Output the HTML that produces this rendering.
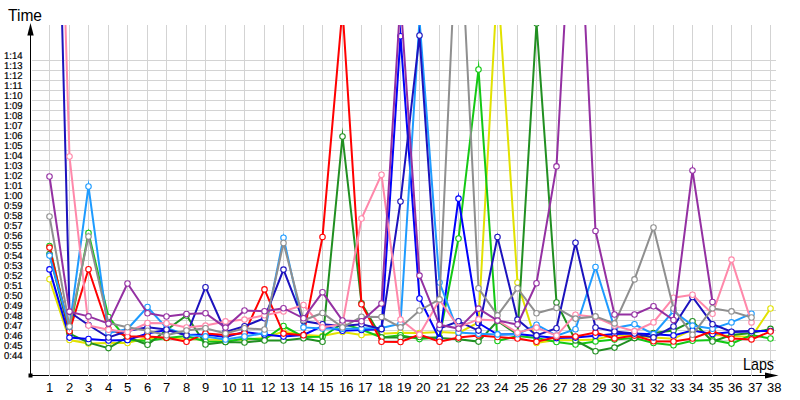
<!DOCTYPE html><html><head><meta charset="utf-8"><style>html,body{margin:0;padding:0;background:#fff;width:800px;height:400px;overflow:hidden}svg{display:block}text{font-family:"Liberation Sans",sans-serif;fill:#000}</style></head><body>
<svg width="800" height="400" viewBox="0 0 800 400">
<rect width="800" height="400" fill="#fff"/>
<path d="M32 60.5H776M32 70.5H776M32 80.5H776M32 90.5H776M32 100.5H776M32 110.5H776M32 120.5H776M32 130.5H776M32 140.5H776M32 150.5H776M32 160.5H776M32 170.5H776M32 180.5H776M32 190.5H776M32 200.5H776M32 210.5H776M32 220.5H776M32 230.5H776M32 240.5H776M32 250.5H776M32 260.5H776M32 270.5H776M32 280.5H776M32 290.5H776M32 300.5H776M32 310.5H776M32 320.5H776M32 330.5H776M32 340.5H776M32 350.5H776M32 360.5H776" stroke="#d3d3d3" stroke-width="1" fill="none" shape-rendering="crispEdges"/>
<path d="M30.5 34V376M30 375.5H767" stroke="#000" stroke-width="1" fill="none" shape-rendering="crispEdges"/>
<path d="M49.5 25V376M69.5 25V376M88.5 25V376M108.5 25V376M127.5 25V376M147.5 25V376M166.5 25V376M186.5 25V376M205.5 25V376M225.5 25V376M244.5 25V376M264.5 25V376M283.5 25V376M303.5 25V376M322.5 25V376M342.5 25V376M361.5 25V376M381.5 25V376M400.5 25V376M419.5 25V376M439.5 25V376M458.5 25V376M478.5 25V376M497.5 25V376M517.5 25V376M536.5 25V376M556.5 25V376M575.5 25V376M595.5 25V376M614.5 25V376M634.5 25V376M653.5 25V376M673.5 25V376M692.5 25V376M712.5 25V376M731.5 25V376M751.5 25V376M770.5 25V376" stroke="#d3d3d3" stroke-width="1" fill="none" shape-rendering="crispEdges"/>
<path d="M30.5 23L27.3 35.5L33.7 35.5Z" fill="#000"/>
<path d="M778.5 375.5L765 372.5L765 378.5Z" fill="#000"/>
<rect x="28.5" y="373.5" width="4" height="4" fill="#000"/>
<text x="4" y="59" font-size="10" textLength="18.5" lengthAdjust="spacingAndGlyphs" stroke="#000" stroke-width="0.2" text-rendering="geometricPrecision">1:14</text><text x="4" y="69" font-size="10" textLength="18.5" lengthAdjust="spacingAndGlyphs" stroke="#000" stroke-width="0.2" text-rendering="geometricPrecision">1:13</text><text x="4" y="79" font-size="10" textLength="18.5" lengthAdjust="spacingAndGlyphs" stroke="#000" stroke-width="0.2" text-rendering="geometricPrecision">1:12</text><text x="4" y="89" font-size="10" textLength="18.5" lengthAdjust="spacingAndGlyphs" stroke="#000" stroke-width="0.2" text-rendering="geometricPrecision">1:11</text><text x="4" y="99" font-size="10" textLength="18.5" lengthAdjust="spacingAndGlyphs" stroke="#000" stroke-width="0.2" text-rendering="geometricPrecision">1:10</text><text x="4" y="109" font-size="10" textLength="18.5" lengthAdjust="spacingAndGlyphs" stroke="#000" stroke-width="0.2" text-rendering="geometricPrecision">1:09</text><text x="4" y="119" font-size="10" textLength="18.5" lengthAdjust="spacingAndGlyphs" stroke="#000" stroke-width="0.2" text-rendering="geometricPrecision">1:08</text><text x="4" y="129" font-size="10" textLength="18.5" lengthAdjust="spacingAndGlyphs" stroke="#000" stroke-width="0.2" text-rendering="geometricPrecision">1:07</text><text x="4" y="139" font-size="10" textLength="18.5" lengthAdjust="spacingAndGlyphs" stroke="#000" stroke-width="0.2" text-rendering="geometricPrecision">1:06</text><text x="4" y="149" font-size="10" textLength="18.5" lengthAdjust="spacingAndGlyphs" stroke="#000" stroke-width="0.2" text-rendering="geometricPrecision">1:05</text><text x="4" y="159" font-size="10" textLength="18.5" lengthAdjust="spacingAndGlyphs" stroke="#000" stroke-width="0.2" text-rendering="geometricPrecision">1:04</text><text x="4" y="169" font-size="10" textLength="18.5" lengthAdjust="spacingAndGlyphs" stroke="#000" stroke-width="0.2" text-rendering="geometricPrecision">1:03</text><text x="4" y="179" font-size="10" textLength="18.5" lengthAdjust="spacingAndGlyphs" stroke="#000" stroke-width="0.2" text-rendering="geometricPrecision">1:02</text><text x="4" y="189" font-size="10" textLength="18.5" lengthAdjust="spacingAndGlyphs" stroke="#000" stroke-width="0.2" text-rendering="geometricPrecision">1:01</text><text x="4" y="199" font-size="10" textLength="18.5" lengthAdjust="spacingAndGlyphs" stroke="#000" stroke-width="0.2" text-rendering="geometricPrecision">1:00</text><text x="4" y="209" font-size="10" textLength="18.5" lengthAdjust="spacingAndGlyphs" stroke="#000" stroke-width="0.2" text-rendering="geometricPrecision">0:59</text><text x="4" y="219" font-size="10" textLength="18.5" lengthAdjust="spacingAndGlyphs" stroke="#000" stroke-width="0.2" text-rendering="geometricPrecision">0:58</text><text x="4" y="229" font-size="10" textLength="18.5" lengthAdjust="spacingAndGlyphs" stroke="#000" stroke-width="0.2" text-rendering="geometricPrecision">0:57</text><text x="4" y="239" font-size="10" textLength="18.5" lengthAdjust="spacingAndGlyphs" stroke="#000" stroke-width="0.2" text-rendering="geometricPrecision">0:56</text><text x="4" y="249" font-size="10" textLength="18.5" lengthAdjust="spacingAndGlyphs" stroke="#000" stroke-width="0.2" text-rendering="geometricPrecision">0:55</text><text x="4" y="259" font-size="10" textLength="18.5" lengthAdjust="spacingAndGlyphs" stroke="#000" stroke-width="0.2" text-rendering="geometricPrecision">0:54</text><text x="4" y="269" font-size="10" textLength="18.5" lengthAdjust="spacingAndGlyphs" stroke="#000" stroke-width="0.2" text-rendering="geometricPrecision">0:53</text><text x="4" y="279" font-size="10" textLength="18.5" lengthAdjust="spacingAndGlyphs" stroke="#000" stroke-width="0.2" text-rendering="geometricPrecision">0:52</text><text x="4" y="289" font-size="10" textLength="18.5" lengthAdjust="spacingAndGlyphs" stroke="#000" stroke-width="0.2" text-rendering="geometricPrecision">0:51</text><text x="4" y="299" font-size="10" textLength="18.5" lengthAdjust="spacingAndGlyphs" stroke="#000" stroke-width="0.2" text-rendering="geometricPrecision">0:50</text><text x="4" y="309" font-size="10" textLength="18.5" lengthAdjust="spacingAndGlyphs" stroke="#000" stroke-width="0.2" text-rendering="geometricPrecision">0:49</text><text x="4" y="319" font-size="10" textLength="18.5" lengthAdjust="spacingAndGlyphs" stroke="#000" stroke-width="0.2" text-rendering="geometricPrecision">0:48</text><text x="4" y="329" font-size="10" textLength="18.5" lengthAdjust="spacingAndGlyphs" stroke="#000" stroke-width="0.2" text-rendering="geometricPrecision">0:47</text><text x="4" y="339" font-size="10" textLength="18.5" lengthAdjust="spacingAndGlyphs" stroke="#000" stroke-width="0.2" text-rendering="geometricPrecision">0:46</text><text x="4" y="349" font-size="10" textLength="18.5" lengthAdjust="spacingAndGlyphs" stroke="#000" stroke-width="0.2" text-rendering="geometricPrecision">0:45</text><text x="4" y="359" font-size="10" textLength="18.5" lengthAdjust="spacingAndGlyphs" stroke="#000" stroke-width="0.2" text-rendering="geometricPrecision">0:44</text>
<text x="46.0" y="392" font-size="13">1</text><text x="66.0" y="392" font-size="13">2</text><text x="85.0" y="392" font-size="13">3</text><text x="105.0" y="392" font-size="13">4</text><text x="124.0" y="392" font-size="13">5</text><text x="144.0" y="392" font-size="13">6</text><text x="163.0" y="392" font-size="13">7</text><text x="183.0" y="392" font-size="13">8</text><text x="202.0" y="392" font-size="13">9</text><text x="222.0" y="392" font-size="13">10</text><text x="241.0" y="392" font-size="13">11</text><text x="261.0" y="392" font-size="13">12</text><text x="280.0" y="392" font-size="13">13</text><text x="300.0" y="392" font-size="13">14</text><text x="319.0" y="392" font-size="13">15</text><text x="339.0" y="392" font-size="13">16</text><text x="358.0" y="392" font-size="13">17</text><text x="378.0" y="392" font-size="13">18</text><text x="397.0" y="392" font-size="13">19</text><text x="416.0" y="392" font-size="13">20</text><text x="436.0" y="392" font-size="13">21</text><text x="455.0" y="392" font-size="13">22</text><text x="475.0" y="392" font-size="13">23</text><text x="494.0" y="392" font-size="13">24</text><text x="514.0" y="392" font-size="13">25</text><text x="533.0" y="392" font-size="13">26</text><text x="553.0" y="392" font-size="13">27</text><text x="572.0" y="392" font-size="13">28</text><text x="592.0" y="392" font-size="13">29</text><text x="611.0" y="392" font-size="13">30</text><text x="631.0" y="392" font-size="13">31</text><text x="650.0" y="392" font-size="13">32</text><text x="670.0" y="392" font-size="13">33</text><text x="689.0" y="392" font-size="13">34</text><text x="709.0" y="392" font-size="13">35</text><text x="728.0" y="392" font-size="13">36</text><text x="748.0" y="392" font-size="13">37</text><text x="767.0" y="392" font-size="13">38</text>
<text x="8" y="21" font-size="17" textLength="34" lengthAdjust="spacingAndGlyphs">Time</text>
<text x="743" y="370" font-size="17" textLength="31" lengthAdjust="spacingAndGlyphs">Laps</text>
<defs><clipPath id="c"><rect x="0" y="25" width="800" height="351"/></clipPath></defs>
<g clip-path="url(#c)" fill="none" stroke-width="2" stroke-linejoin="miter" stroke-miterlimit="21">
<path d="M49.5 279.3 L69.5 340.0 L88.5 343.5 L108.5 343.0 L127.5 343.0 L147.5 337.7 L166.5 338.0 L186.5 339.0 L205.5 339.5 L225.5 340.0 L244.5 339.5 L264.5 338.0 L283.5 331.5 L303.5 335.0 L322.5 336.0 L342.5 332.0 L361.5 335.0 L381.5 333.8 L400.5 332.7 L419.5 333.0 L439.5 332.0 L458.5 333.0 L478.5 322.5 L497.5 -20.0 L517.5 282.5 L536.5 343.0 L556.5 340.0 L575.5 340.2 L595.5 339.4 L614.5 335.0 L634.5 336.0 L653.5 337.6 L673.5 338.8 L692.5 329.5 L712.5 335.0 L731.5 336.0 L751.5 337.0 L770.5 308.5" stroke="#e2e200"/>
<g fill="#fff" stroke="#e2e200" stroke-width="1.1"><circle cx="49.5" cy="279.3" r="2.75"/><circle cx="69.5" cy="340.0" r="2.75"/><circle cx="88.5" cy="343.5" r="2.75"/><circle cx="108.5" cy="343.0" r="2.75"/><circle cx="127.5" cy="343.0" r="2.75"/><circle cx="147.5" cy="337.7" r="2.75"/><circle cx="166.5" cy="338.0" r="2.75"/><circle cx="186.5" cy="339.0" r="2.75"/><circle cx="205.5" cy="339.5" r="2.75"/><circle cx="225.5" cy="340.0" r="2.75"/><circle cx="244.5" cy="339.5" r="2.75"/><circle cx="264.5" cy="338.0" r="2.75"/><circle cx="283.5" cy="331.5" r="2.75"/><circle cx="303.5" cy="335.0" r="2.75"/><circle cx="322.5" cy="336.0" r="2.75"/><circle cx="342.5" cy="332.0" r="2.75"/><circle cx="361.5" cy="335.0" r="2.75"/><circle cx="381.5" cy="333.8" r="2.75"/><circle cx="400.5" cy="332.7" r="2.75"/><circle cx="419.5" cy="333.0" r="2.75"/><circle cx="439.5" cy="332.0" r="2.75"/><circle cx="458.5" cy="333.0" r="2.75"/><circle cx="478.5" cy="322.5" r="2.75"/><circle cx="517.5" cy="282.5" r="2.75"/><circle cx="536.5" cy="343.0" r="2.75"/><circle cx="556.5" cy="340.0" r="2.75"/><circle cx="575.5" cy="340.2" r="2.75"/><circle cx="595.5" cy="339.4" r="2.75"/><circle cx="614.5" cy="335.0" r="2.75"/><circle cx="634.5" cy="336.0" r="2.75"/><circle cx="653.5" cy="337.6" r="2.75"/><circle cx="673.5" cy="338.8" r="2.75"/><circle cx="692.5" cy="329.5" r="2.75"/><circle cx="712.5" cy="335.0" r="2.75"/><circle cx="731.5" cy="336.0" r="2.75"/><circle cx="751.5" cy="337.0" r="2.75"/><circle cx="770.5" cy="308.5" r="2.75"/></g>
<path d="M49.5 246.0 L69.5 332.0 L88.5 233.0 L108.5 317.0 L127.5 340.0 L147.5 341.0 L166.5 338.0 L186.5 336.0 L205.5 341.5 L225.5 342.0 L244.5 338.5 L264.5 339.5 L283.5 326.0 L303.5 337.0 L322.5 336.8 L342.5 323.5 L361.5 329.5 L381.5 337.5 L400.5 335.2 L419.5 339.1 L439.5 337.3 L458.5 238.5 L478.5 69.5 L497.5 341.0 L517.5 336.0 L536.5 338.0 L556.5 342.0 L575.5 344.5 L595.5 341.4 L614.5 339.6 L634.5 338.0 L653.5 343.0 L673.5 345.2 L692.5 340.8 L712.5 340.0 L731.5 343.6 L751.5 335.0 L770.5 338.5" stroke="#14c814"/>
<g fill="#fff" stroke="#14c814" stroke-width="1.1"><circle cx="49.5" cy="246.0" r="2.75"/><circle cx="69.5" cy="332.0" r="2.75"/><circle cx="88.5" cy="233.0" r="2.75"/><circle cx="108.5" cy="317.0" r="2.75"/><circle cx="127.5" cy="340.0" r="2.75"/><circle cx="147.5" cy="341.0" r="2.75"/><circle cx="166.5" cy="338.0" r="2.75"/><circle cx="186.5" cy="336.0" r="2.75"/><circle cx="205.5" cy="341.5" r="2.75"/><circle cx="225.5" cy="342.0" r="2.75"/><circle cx="244.5" cy="338.5" r="2.75"/><circle cx="264.5" cy="339.5" r="2.75"/><circle cx="283.5" cy="326.0" r="2.75"/><circle cx="303.5" cy="337.0" r="2.75"/><circle cx="322.5" cy="336.8" r="2.75"/><circle cx="342.5" cy="323.5" r="2.75"/><circle cx="361.5" cy="329.5" r="2.75"/><circle cx="381.5" cy="337.5" r="2.75"/><circle cx="400.5" cy="335.2" r="2.75"/><circle cx="419.5" cy="339.1" r="2.75"/><circle cx="439.5" cy="337.3" r="2.75"/><circle cx="458.5" cy="238.5" r="2.75"/><circle cx="478.5" cy="69.5" r="2.75"/><circle cx="497.5" cy="341.0" r="2.75"/><circle cx="517.5" cy="336.0" r="2.75"/><circle cx="536.5" cy="338.0" r="2.75"/><circle cx="556.5" cy="342.0" r="2.75"/><circle cx="575.5" cy="344.5" r="2.75"/><circle cx="595.5" cy="341.4" r="2.75"/><circle cx="614.5" cy="339.6" r="2.75"/><circle cx="634.5" cy="338.0" r="2.75"/><circle cx="653.5" cy="343.0" r="2.75"/><circle cx="673.5" cy="345.2" r="2.75"/><circle cx="692.5" cy="340.8" r="2.75"/><circle cx="712.5" cy="340.0" r="2.75"/><circle cx="731.5" cy="343.6" r="2.75"/><circle cx="751.5" cy="335.0" r="2.75"/><circle cx="770.5" cy="338.5" r="2.75"/></g>
<path d="M49.5 254.0 L69.5 333.6 L88.5 342.6 L108.5 348.1 L127.5 337.0 L147.5 344.8 L166.5 330.0 L186.5 315.5 L205.5 344.5 L225.5 342.0 L244.5 342.5 L264.5 340.5 L283.5 340.5 L303.5 338.2 L322.5 341.7 L342.5 136.5 L361.5 303.3 L381.5 337.5 L400.5 337.5 L419.5 337.0 L439.5 338.0 L458.5 339.3 L478.5 341.6 L497.5 321.0 L517.5 334.5 L536.5 23.3 L556.5 302.5 L575.5 340.4 L595.5 351.2 L614.5 347.6 L634.5 338.1 L653.5 333.0 L673.5 330.5 L692.5 321.2 L712.5 341.5 L731.5 335.0 L751.5 333.0 L770.5 328.9" stroke="#218f21"/>
<g fill="#fff" stroke="#218f21" stroke-width="1.1"><circle cx="49.5" cy="254.0" r="2.75"/><circle cx="69.5" cy="333.6" r="2.75"/><circle cx="88.5" cy="342.6" r="2.75"/><circle cx="108.5" cy="348.1" r="2.75"/><circle cx="127.5" cy="337.0" r="2.75"/><circle cx="147.5" cy="344.8" r="2.75"/><circle cx="166.5" cy="330.0" r="2.75"/><circle cx="186.5" cy="315.5" r="2.75"/><circle cx="205.5" cy="344.5" r="2.75"/><circle cx="225.5" cy="342.0" r="2.75"/><circle cx="244.5" cy="342.5" r="2.75"/><circle cx="264.5" cy="340.5" r="2.75"/><circle cx="283.5" cy="340.5" r="2.75"/><circle cx="303.5" cy="338.2" r="2.75"/><circle cx="322.5" cy="341.7" r="2.75"/><circle cx="342.5" cy="136.5" r="2.75"/><circle cx="361.5" cy="303.3" r="2.75"/><circle cx="381.5" cy="337.5" r="2.75"/><circle cx="400.5" cy="337.5" r="2.75"/><circle cx="419.5" cy="337.0" r="2.75"/><circle cx="439.5" cy="338.0" r="2.75"/><circle cx="458.5" cy="339.3" r="2.75"/><circle cx="478.5" cy="341.6" r="2.75"/><circle cx="497.5" cy="321.0" r="2.75"/><circle cx="517.5" cy="334.5" r="2.75"/><circle cx="536.5" cy="23.3" r="2.75"/><circle cx="556.5" cy="302.5" r="2.75"/><circle cx="575.5" cy="340.4" r="2.75"/><circle cx="595.5" cy="351.2" r="2.75"/><circle cx="614.5" cy="347.6" r="2.75"/><circle cx="634.5" cy="338.1" r="2.75"/><circle cx="653.5" cy="333.0" r="2.75"/><circle cx="673.5" cy="330.5" r="2.75"/><circle cx="692.5" cy="321.2" r="2.75"/><circle cx="712.5" cy="341.5" r="2.75"/><circle cx="731.5" cy="335.0" r="2.75"/><circle cx="751.5" cy="333.0" r="2.75"/><circle cx="770.5" cy="328.9" r="2.75"/></g>
<path d="M49.5 269.4 L69.5 337.6 L88.5 339.0 L108.5 340.5 L127.5 340.0 L147.5 333.5 L166.5 330.0 L186.5 335.0 L205.5 334.5 L225.5 337.0 L244.5 332.0 L264.5 334.5 L283.5 336.6 L303.5 335.0 L322.5 326.0 L342.5 330.8 L361.5 330.0 L381.5 329.2 L400.5 36.2 L419.5 298.5 L439.5 339.0 L458.5 198.6 L478.5 323.0 L497.5 334.5 L517.5 334.0 L536.5 336.0 L556.5 338.1 L575.5 337.6 L595.5 335.8 L614.5 334.0 L634.5 333.6 L653.5 334.3 L673.5 335.5 L692.5 330.4 L712.5 334.0 L731.5 332.0 L751.5 331.2 L770.5 331.0" stroke="#0000fa"/>
<g fill="#fff" stroke="#0000fa" stroke-width="1.1"><circle cx="49.5" cy="269.4" r="2.75"/><circle cx="69.5" cy="337.6" r="2.75"/><circle cx="88.5" cy="339.0" r="2.75"/><circle cx="108.5" cy="340.5" r="2.75"/><circle cx="127.5" cy="340.0" r="2.75"/><circle cx="147.5" cy="333.5" r="2.75"/><circle cx="166.5" cy="330.0" r="2.75"/><circle cx="186.5" cy="335.0" r="2.75"/><circle cx="205.5" cy="334.5" r="2.75"/><circle cx="225.5" cy="337.0" r="2.75"/><circle cx="244.5" cy="332.0" r="2.75"/><circle cx="264.5" cy="334.5" r="2.75"/><circle cx="283.5" cy="336.6" r="2.75"/><circle cx="303.5" cy="335.0" r="2.75"/><circle cx="322.5" cy="326.0" r="2.75"/><circle cx="342.5" cy="330.8" r="2.75"/><circle cx="361.5" cy="330.0" r="2.75"/><circle cx="381.5" cy="329.2" r="2.75"/><circle cx="400.5" cy="36.2" r="2.75"/><circle cx="419.5" cy="298.5" r="2.75"/><circle cx="439.5" cy="339.0" r="2.75"/><circle cx="458.5" cy="198.6" r="2.75"/><circle cx="478.5" cy="323.0" r="2.75"/><circle cx="497.5" cy="334.5" r="2.75"/><circle cx="517.5" cy="334.0" r="2.75"/><circle cx="536.5" cy="336.0" r="2.75"/><circle cx="556.5" cy="338.1" r="2.75"/><circle cx="575.5" cy="337.6" r="2.75"/><circle cx="595.5" cy="335.8" r="2.75"/><circle cx="614.5" cy="334.0" r="2.75"/><circle cx="634.5" cy="333.6" r="2.75"/><circle cx="653.5" cy="334.3" r="2.75"/><circle cx="673.5" cy="335.5" r="2.75"/><circle cx="692.5" cy="330.4" r="2.75"/><circle cx="712.5" cy="334.0" r="2.75"/><circle cx="731.5" cy="332.0" r="2.75"/><circle cx="751.5" cy="331.2" r="2.75"/><circle cx="770.5" cy="331.0" r="2.75"/></g>
<path d="M49.5 247.6 L69.5 331.2 L88.5 269.3 L108.5 329.0 L127.5 336.5 L147.5 336.5 L166.5 337.7 L186.5 341.8 L205.5 333.4 L225.5 335.0 L244.5 333.1 L264.5 289.4 L283.5 333.6 L303.5 335.2 L322.5 237.0 L342.5 9.0 L361.5 304.2 L381.5 341.7 L400.5 342.0 L419.5 334.6 L439.5 341.7 L458.5 337.6 L478.5 335.4 L497.5 337.0 L517.5 338.5 L536.5 341.7 L556.5 337.0 L575.5 336.5 L595.5 332.6 L614.5 338.4 L634.5 335.6 L653.5 341.3 L673.5 341.5 L692.5 338.5 L712.5 331.0 L731.5 338.6 L751.5 339.4 L770.5 331.5" stroke="#ff0000"/>
<g fill="#fff" stroke="#ff0000" stroke-width="1.1"><circle cx="49.5" cy="247.6" r="2.75"/><circle cx="69.5" cy="331.2" r="2.75"/><circle cx="88.5" cy="269.3" r="2.75"/><circle cx="108.5" cy="329.0" r="2.75"/><circle cx="127.5" cy="336.5" r="2.75"/><circle cx="147.5" cy="336.5" r="2.75"/><circle cx="166.5" cy="337.7" r="2.75"/><circle cx="186.5" cy="341.8" r="2.75"/><circle cx="205.5" cy="333.4" r="2.75"/><circle cx="225.5" cy="335.0" r="2.75"/><circle cx="244.5" cy="333.1" r="2.75"/><circle cx="264.5" cy="289.4" r="2.75"/><circle cx="283.5" cy="333.6" r="2.75"/><circle cx="303.5" cy="335.2" r="2.75"/><circle cx="322.5" cy="237.0" r="2.75"/><circle cx="361.5" cy="304.2" r="2.75"/><circle cx="381.5" cy="341.7" r="2.75"/><circle cx="400.5" cy="342.0" r="2.75"/><circle cx="419.5" cy="334.6" r="2.75"/><circle cx="439.5" cy="341.7" r="2.75"/><circle cx="458.5" cy="337.6" r="2.75"/><circle cx="478.5" cy="335.4" r="2.75"/><circle cx="497.5" cy="337.0" r="2.75"/><circle cx="517.5" cy="338.5" r="2.75"/><circle cx="536.5" cy="341.7" r="2.75"/><circle cx="556.5" cy="337.0" r="2.75"/><circle cx="575.5" cy="336.5" r="2.75"/><circle cx="595.5" cy="332.6" r="2.75"/><circle cx="614.5" cy="338.4" r="2.75"/><circle cx="634.5" cy="335.6" r="2.75"/><circle cx="653.5" cy="341.3" r="2.75"/><circle cx="673.5" cy="341.5" r="2.75"/><circle cx="692.5" cy="338.5" r="2.75"/><circle cx="712.5" cy="331.0" r="2.75"/><circle cx="731.5" cy="338.6" r="2.75"/><circle cx="751.5" cy="339.4" r="2.75"/><circle cx="770.5" cy="331.5" r="2.75"/></g>
<path d="M49.5 255.6 L69.5 327.0 L88.5 186.5 L108.5 333.0 L127.5 329.0 L147.5 307.0 L166.5 328.0 L186.5 335.0 L205.5 336.4 L225.5 339.5 L244.5 336.5 L264.5 333.1 L283.5 237.7 L303.5 327.4 L322.5 328.5 L342.5 328.8 L361.5 328.5 L381.5 328.0 L400.5 323.7 L419.5 20.0 L439.5 282.5 L458.5 332.6 L478.5 333.7 L497.5 334.4 L517.5 334.2 L536.5 324.7 L556.5 335.6 L575.5 329.3 L595.5 267.0 L614.5 328.0 L634.5 324.3 L653.5 334.2 L673.5 311.0 L692.5 325.6 L712.5 328.8 L731.5 322.4 L751.5 313.7" stroke="#1e9bff"/>
<g fill="#fff" stroke="#1e9bff" stroke-width="1.1"><circle cx="49.5" cy="255.6" r="2.75"/><circle cx="69.5" cy="327.0" r="2.75"/><circle cx="88.5" cy="186.5" r="2.75"/><circle cx="108.5" cy="333.0" r="2.75"/><circle cx="127.5" cy="329.0" r="2.75"/><circle cx="147.5" cy="307.0" r="2.75"/><circle cx="166.5" cy="328.0" r="2.75"/><circle cx="186.5" cy="335.0" r="2.75"/><circle cx="205.5" cy="336.4" r="2.75"/><circle cx="225.5" cy="339.5" r="2.75"/><circle cx="244.5" cy="336.5" r="2.75"/><circle cx="264.5" cy="333.1" r="2.75"/><circle cx="283.5" cy="237.7" r="2.75"/><circle cx="303.5" cy="327.4" r="2.75"/><circle cx="322.5" cy="328.5" r="2.75"/><circle cx="342.5" cy="328.8" r="2.75"/><circle cx="361.5" cy="328.5" r="2.75"/><circle cx="381.5" cy="328.0" r="2.75"/><circle cx="400.5" cy="323.7" r="2.75"/><circle cx="439.5" cy="282.5" r="2.75"/><circle cx="458.5" cy="332.6" r="2.75"/><circle cx="478.5" cy="333.7" r="2.75"/><circle cx="497.5" cy="334.4" r="2.75"/><circle cx="517.5" cy="334.2" r="2.75"/><circle cx="536.5" cy="324.7" r="2.75"/><circle cx="556.5" cy="335.6" r="2.75"/><circle cx="575.5" cy="329.3" r="2.75"/><circle cx="595.5" cy="267.0" r="2.75"/><circle cx="614.5" cy="328.0" r="2.75"/><circle cx="634.5" cy="324.3" r="2.75"/><circle cx="653.5" cy="334.2" r="2.75"/><circle cx="673.5" cy="311.0" r="2.75"/><circle cx="692.5" cy="325.6" r="2.75"/><circle cx="712.5" cy="328.8" r="2.75"/><circle cx="731.5" cy="322.4" r="2.75"/><circle cx="751.5" cy="313.7" r="2.75"/></g>
<path d="M49.5 -470.0 L69.5 312.0 L88.5 325.0 L108.5 337.5 L127.5 331.0 L147.5 327.2 L166.5 329.5 L186.5 335.3 L205.5 287.2 L225.5 332.0 L244.5 326.3 L264.5 318.2 L283.5 269.6 L303.5 321.0 L322.5 324.3 L342.5 326.0 L361.5 324.3 L381.5 329.0 L400.5 201.5 L419.5 35.5 L439.5 328.5 L458.5 321.3 L478.5 330.6 L497.5 237.0 L517.5 319.6 L536.5 335.4 L556.5 328.3 L575.5 242.8 L595.5 327.5 L614.5 331.4 L634.5 333.6 L653.5 337.4 L673.5 326.5 L692.5 297.0 L712.5 324.2 L731.5 331.8 L751.5 331.0" stroke="#1c12bd"/>
<g fill="#fff" stroke="#1c12bd" stroke-width="1.1"><circle cx="69.5" cy="312.0" r="2.75"/><circle cx="88.5" cy="325.0" r="2.75"/><circle cx="108.5" cy="337.5" r="2.75"/><circle cx="127.5" cy="331.0" r="2.75"/><circle cx="147.5" cy="327.2" r="2.75"/><circle cx="166.5" cy="329.5" r="2.75"/><circle cx="186.5" cy="335.3" r="2.75"/><circle cx="205.5" cy="287.2" r="2.75"/><circle cx="225.5" cy="332.0" r="2.75"/><circle cx="244.5" cy="326.3" r="2.75"/><circle cx="264.5" cy="318.2" r="2.75"/><circle cx="283.5" cy="269.6" r="2.75"/><circle cx="303.5" cy="321.0" r="2.75"/><circle cx="322.5" cy="324.3" r="2.75"/><circle cx="342.5" cy="326.0" r="2.75"/><circle cx="361.5" cy="324.3" r="2.75"/><circle cx="381.5" cy="329.0" r="2.75"/><circle cx="400.5" cy="201.5" r="2.75"/><circle cx="419.5" cy="35.5" r="2.75"/><circle cx="439.5" cy="328.5" r="2.75"/><circle cx="458.5" cy="321.3" r="2.75"/><circle cx="478.5" cy="330.6" r="2.75"/><circle cx="497.5" cy="237.0" r="2.75"/><circle cx="517.5" cy="319.6" r="2.75"/><circle cx="536.5" cy="335.4" r="2.75"/><circle cx="556.5" cy="328.3" r="2.75"/><circle cx="575.5" cy="242.8" r="2.75"/><circle cx="595.5" cy="327.5" r="2.75"/><circle cx="614.5" cy="331.4" r="2.75"/><circle cx="634.5" cy="333.6" r="2.75"/><circle cx="653.5" cy="337.4" r="2.75"/><circle cx="673.5" cy="326.5" r="2.75"/><circle cx="692.5" cy="297.0" r="2.75"/><circle cx="712.5" cy="324.2" r="2.75"/><circle cx="731.5" cy="331.8" r="2.75"/><circle cx="751.5" cy="331.0" r="2.75"/></g>
<path d="M49.5 -500.0 L69.5 156.5 L88.5 325.6 L108.5 329.7 L127.5 332.0 L147.5 323.0 L166.5 323.3 L186.5 327.5 L205.5 325.6 L225.5 321.4 L244.5 319.6 L264.5 315.2 L283.5 311.4 L303.5 305.0 L322.5 327.4 L342.5 324.0 L361.5 218.5 L381.5 174.7 L400.5 319.5 L419.5 334.6 L439.5 300.0 L458.5 327.0 L478.5 319.4 L497.5 320.5 L517.5 332.6 L536.5 327.6 L556.5 335.6 L575.5 314.7 L595.5 317.0 L614.5 325.6 L634.5 331.1 L653.5 322.4 L673.5 297.7 L692.5 294.7 L712.5 313.8 L731.5 259.6 L751.5 322.4" stroke="#ff88aa"/>
<g fill="#fff" stroke="#ff88aa" stroke-width="1.1"><circle cx="69.5" cy="156.5" r="2.75"/><circle cx="88.5" cy="325.6" r="2.75"/><circle cx="108.5" cy="329.7" r="2.75"/><circle cx="127.5" cy="332.0" r="2.75"/><circle cx="147.5" cy="323.0" r="2.75"/><circle cx="166.5" cy="323.3" r="2.75"/><circle cx="186.5" cy="327.5" r="2.75"/><circle cx="205.5" cy="325.6" r="2.75"/><circle cx="225.5" cy="321.4" r="2.75"/><circle cx="244.5" cy="319.6" r="2.75"/><circle cx="264.5" cy="315.2" r="2.75"/><circle cx="283.5" cy="311.4" r="2.75"/><circle cx="303.5" cy="305.0" r="2.75"/><circle cx="322.5" cy="327.4" r="2.75"/><circle cx="342.5" cy="324.0" r="2.75"/><circle cx="361.5" cy="218.5" r="2.75"/><circle cx="381.5" cy="174.7" r="2.75"/><circle cx="400.5" cy="319.5" r="2.75"/><circle cx="419.5" cy="334.6" r="2.75"/><circle cx="439.5" cy="300.0" r="2.75"/><circle cx="458.5" cy="327.0" r="2.75"/><circle cx="478.5" cy="319.4" r="2.75"/><circle cx="497.5" cy="320.5" r="2.75"/><circle cx="517.5" cy="332.6" r="2.75"/><circle cx="536.5" cy="327.6" r="2.75"/><circle cx="556.5" cy="335.6" r="2.75"/><circle cx="575.5" cy="314.7" r="2.75"/><circle cx="595.5" cy="317.0" r="2.75"/><circle cx="614.5" cy="325.6" r="2.75"/><circle cx="634.5" cy="331.1" r="2.75"/><circle cx="653.5" cy="322.4" r="2.75"/><circle cx="673.5" cy="297.7" r="2.75"/><circle cx="692.5" cy="294.7" r="2.75"/><circle cx="712.5" cy="313.8" r="2.75"/><circle cx="731.5" cy="259.6" r="2.75"/><circle cx="751.5" cy="322.4" r="2.75"/></g>
<path d="M49.5 216.5 L69.5 326.5 L88.5 236.5 L108.5 323.0 L127.5 327.2 L147.5 330.8 L166.5 335.3 L186.5 330.5 L205.5 328.2 L225.5 333.4 L244.5 328.2 L264.5 329.5 L283.5 243.0 L303.5 320.3 L322.5 313.0 L342.5 327.4 L361.5 316.8 L381.5 317.0 L400.5 327.4 L419.5 310.5 L439.5 299.4 L458.5 -112.0 L478.5 288.3 L497.5 315.4 L517.5 288.3 L536.5 313.3 L556.5 307.9 L575.5 318.6 L595.5 316.4 L614.5 323.4 L634.5 279.4 L653.5 227.5 L673.5 308.5 L692.5 334.8 L712.5 308.3 L731.5 311.4 L751.5 317.5" stroke="#8f8f8f"/>
<g fill="#fff" stroke="#8f8f8f" stroke-width="1.1"><circle cx="49.5" cy="216.5" r="2.75"/><circle cx="69.5" cy="326.5" r="2.75"/><circle cx="88.5" cy="236.5" r="2.75"/><circle cx="108.5" cy="323.0" r="2.75"/><circle cx="127.5" cy="327.2" r="2.75"/><circle cx="147.5" cy="330.8" r="2.75"/><circle cx="166.5" cy="335.3" r="2.75"/><circle cx="186.5" cy="330.5" r="2.75"/><circle cx="205.5" cy="328.2" r="2.75"/><circle cx="225.5" cy="333.4" r="2.75"/><circle cx="244.5" cy="328.2" r="2.75"/><circle cx="264.5" cy="329.5" r="2.75"/><circle cx="283.5" cy="243.0" r="2.75"/><circle cx="303.5" cy="320.3" r="2.75"/><circle cx="322.5" cy="313.0" r="2.75"/><circle cx="342.5" cy="327.4" r="2.75"/><circle cx="361.5" cy="316.8" r="2.75"/><circle cx="381.5" cy="317.0" r="2.75"/><circle cx="400.5" cy="327.4" r="2.75"/><circle cx="419.5" cy="310.5" r="2.75"/><circle cx="439.5" cy="299.4" r="2.75"/><circle cx="478.5" cy="288.3" r="2.75"/><circle cx="497.5" cy="315.4" r="2.75"/><circle cx="517.5" cy="288.3" r="2.75"/><circle cx="536.5" cy="313.3" r="2.75"/><circle cx="556.5" cy="307.9" r="2.75"/><circle cx="575.5" cy="318.6" r="2.75"/><circle cx="595.5" cy="316.4" r="2.75"/><circle cx="614.5" cy="323.4" r="2.75"/><circle cx="634.5" cy="279.4" r="2.75"/><circle cx="653.5" cy="227.5" r="2.75"/><circle cx="673.5" cy="308.5" r="2.75"/><circle cx="692.5" cy="334.8" r="2.75"/><circle cx="712.5" cy="308.3" r="2.75"/><circle cx="731.5" cy="311.4" r="2.75"/><circle cx="751.5" cy="317.5" r="2.75"/></g>
<path d="M49.5 176.5 L69.5 311.6 L88.5 316.4 L108.5 323.6 L127.5 283.5 L147.5 313.2 L166.5 316.5 L186.5 314.0 L205.5 313.3 L225.5 327.6 L244.5 310.5 L264.5 311.2 L283.5 308.2 L303.5 318.3 L322.5 292.3 L342.5 320.5 L361.5 321.3 L381.5 303.5 L400.5 0.0 L419.5 275.6 L439.5 324.8 L458.5 328.6 L478.5 308.6 L497.5 320.6 L517.5 324.5 L536.5 283.2 L556.5 166.4 L575.5 -175.0 L595.5 231.0 L614.5 314.5 L634.5 314.5 L653.5 306.2 L673.5 320.0 L692.5 170.5 L712.5 302.0" stroke="#9430a2"/>
<g fill="#fff" stroke="#9430a2" stroke-width="1.1"><circle cx="49.5" cy="176.5" r="2.75"/><circle cx="69.5" cy="311.6" r="2.75"/><circle cx="88.5" cy="316.4" r="2.75"/><circle cx="108.5" cy="323.6" r="2.75"/><circle cx="127.5" cy="283.5" r="2.75"/><circle cx="147.5" cy="313.2" r="2.75"/><circle cx="166.5" cy="316.5" r="2.75"/><circle cx="186.5" cy="314.0" r="2.75"/><circle cx="205.5" cy="313.3" r="2.75"/><circle cx="225.5" cy="327.6" r="2.75"/><circle cx="244.5" cy="310.5" r="2.75"/><circle cx="264.5" cy="311.2" r="2.75"/><circle cx="283.5" cy="308.2" r="2.75"/><circle cx="303.5" cy="318.3" r="2.75"/><circle cx="322.5" cy="292.3" r="2.75"/><circle cx="342.5" cy="320.5" r="2.75"/><circle cx="361.5" cy="321.3" r="2.75"/><circle cx="381.5" cy="303.5" r="2.75"/><circle cx="419.5" cy="275.6" r="2.75"/><circle cx="439.5" cy="324.8" r="2.75"/><circle cx="458.5" cy="328.6" r="2.75"/><circle cx="478.5" cy="308.6" r="2.75"/><circle cx="497.5" cy="320.6" r="2.75"/><circle cx="517.5" cy="324.5" r="2.75"/><circle cx="536.5" cy="283.2" r="2.75"/><circle cx="556.5" cy="166.4" r="2.75"/><circle cx="595.5" cy="231.0" r="2.75"/><circle cx="614.5" cy="314.5" r="2.75"/><circle cx="634.5" cy="314.5" r="2.75"/><circle cx="653.5" cy="306.2" r="2.75"/><circle cx="673.5" cy="320.0" r="2.75"/><circle cx="692.5" cy="170.5" r="2.75"/><circle cx="712.5" cy="302.0" r="2.75"/></g>
</g>
</svg></body></html>
